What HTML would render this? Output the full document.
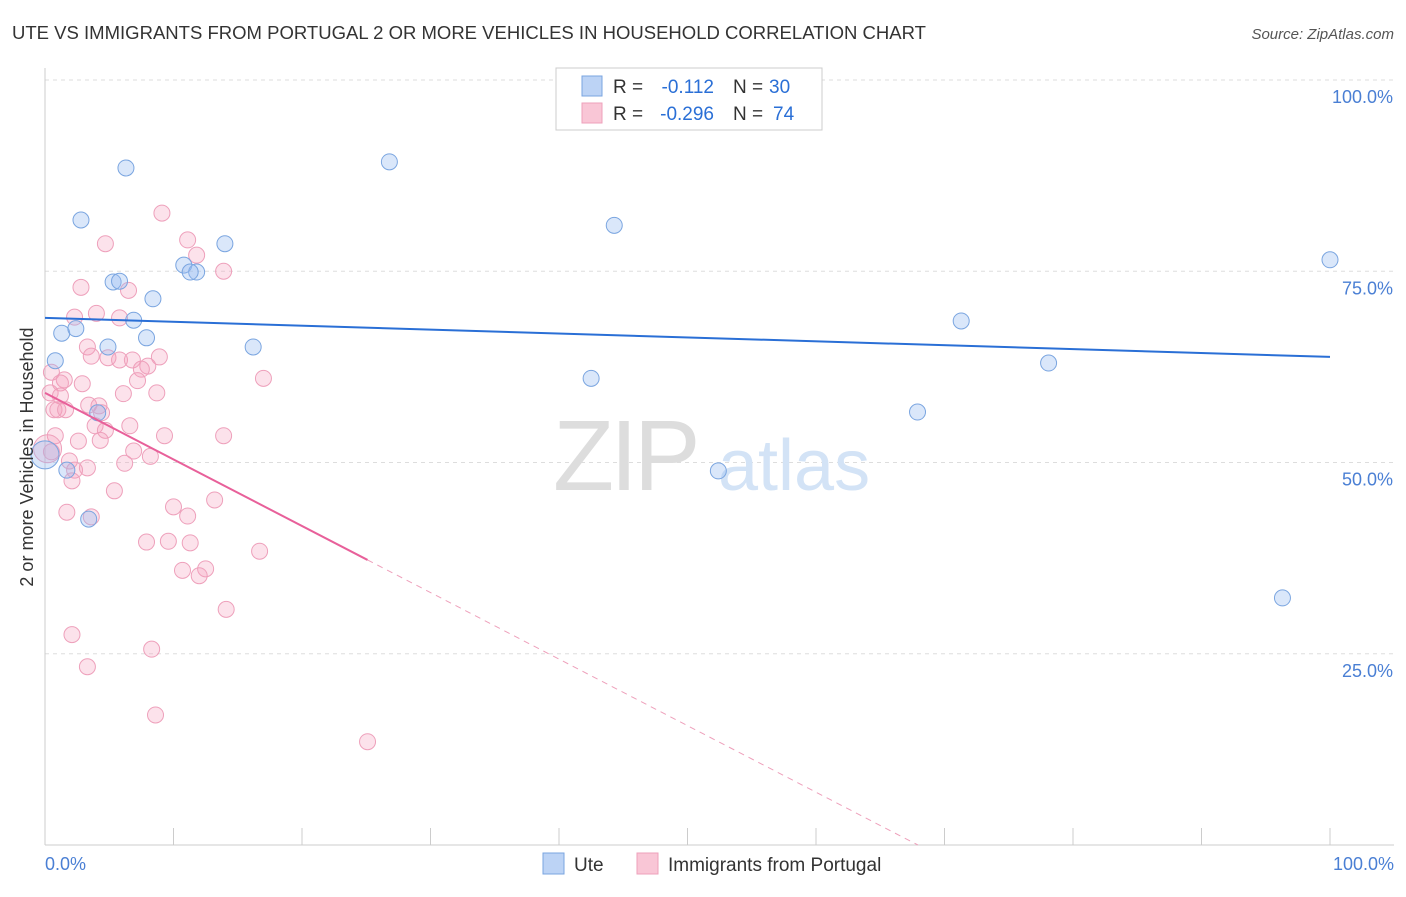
<!DOCTYPE html>
<html><head><meta charset="utf-8"><style>
body{margin:0;background:#fff;font-family:"Liberation Sans",sans-serif;}
svg text{font-family:"Liberation Sans",sans-serif;}
</style></head><body>
<svg id="chart" width="1406" height="892" xmlns="http://www.w3.org/2000/svg">
<text x="12" y="39" font-size="18" fill="#333" textLength="914" lengthAdjust="spacingAndGlyphs">UTE VS IMMIGRANTS FROM PORTUGAL 2 OR MORE VEHICLES IN HOUSEHOLD CORRELATION CHART</text>
<text x="1394" y="39" font-size="15" fill="#555" text-anchor="end" font-style="italic">Source: ZipAtlas.com</text>
<g id="grid"></g>
<text x="553" y="490" font-size="100" fill="#ddd" font-family="Liberation Serif, serif" letter-spacing="-4">ZIP</text>
<text x="718" y="490" font-size="72" fill="#d3e3f6">atlas</text>
<line x1="45" y1="68" x2="45" y2="845" stroke="#ccc"/>
<line x1="45" y1="845" x2="1394" y2="845" stroke="#ccc"/>
<g id="ticks"></g>
<g id="marks"></g>
<text transform="translate(33,457) rotate(-90)" font-size="18" fill="#333" text-anchor="middle">2 or more Vehicles in Household</text>
<text x="45" y="870" font-size="18" fill="#4a7fd4">0.0%</text>
<text x="1394" y="870" font-size="18" fill="#4a7fd4" text-anchor="end">100.0%</text>
<g>
<rect x="556" y="68" width="266" height="62" fill="#fff" stroke="#ccc"/>
<rect x="582" y="76" width="20" height="20" fill="#bcd3f5" stroke="#7aa5e0"/>
<rect x="582" y="103" width="20" height="20" fill="#f9c6d6" stroke="#eea0bb"/>
<text x="613" y="93" font-size="19" fill="#333">R =</text>
<text x="714" y="93" font-size="19" fill="#2a6fd6" text-anchor="end">-0.112</text>
<text x="733" y="93" font-size="19" fill="#333">N =</text>
<text x="769" y="93" font-size="19" fill="#2a6fd6">30</text>
<text x="613" y="120" font-size="19" fill="#333">R =</text>
<text x="714" y="120" font-size="19" fill="#2a6fd6" text-anchor="end">-0.296</text>
<text x="733" y="120" font-size="19" fill="#333">N =</text>
<text x="773" y="120" font-size="19" fill="#2a6fd6">74</text>
</g>
<g>
<rect x="543" y="853" width="21" height="21" fill="#bcd3f5" stroke="#7aa5e0"/>
<text x="574" y="871" font-size="19" fill="#333">Ute</text>
<rect x="637" y="853" width="21" height="21" fill="#f9c6d6" stroke="#eea0bb"/>
<text x="668" y="871" font-size="19" fill="#333">Immigrants from Portugal</text>
</g>
</svg>
<script>
const yTicks=[25,50,75,100];
const yTickLabels=["25.0%","50.0%","75.0%","100.0%"];
const uteX=[6.3,26.8,2.8,44.3,14.0,10.8,11.8,5.3,5.8,8.4,100,6.9,71.3,1.3,2.4,7.9,4.9,16.2,0.8,78.1,42.5,67.9,4.1,0,1.7,52.4,3.4,96.3,56.9,11.3];
const uteY=[88.5,89.3,81.7,81.0,78.6,75.8,74.9,73.6,73.7,71.4,76.5,68.6,68.5,66.9,67.5,66.3,65.1,65.1,63.3,63.0,61.0,56.6,56.5,51.0,49.0,48.9,42.6,32.3,100,74.9];
const porX=[9.1,11.1,4.7,11.8,13.9,2.8,6.5,4.0,2.3,5.8,3.3,3.6,4.9,5.8,6.8,8.9,8.0,7.5,0.5,1.5,2.9,1.2,7.2,17.0,0.4,6.1,8.7,1.2,3.4,4.2,0.7,1.0,1.6,4.4,6.6,3.9,4.7,4.3,2.6,0.8,9.3,13.9,0.5,6.9,8.2,1.9,6.2,3.3,2.3,2.1,5.4,13.2,10.0,11.1,1.7,3.6,7.9,9.6,11.3,16.7,10.7,12.5,12.0,14.1,2.1,8.3,3.3,8.6,25.1,0.2];
const porY=[82.6,79.1,78.6,77.1,75.0,72.9,72.5,69.5,69.0,68.9,65.1,63.9,63.7,63.4,63.4,63.8,62.6,62.2,61.8,60.8,60.3,60.4,60.7,61.0,59.1,59.0,59.1,58.7,57.5,57.4,56.9,56.9,56.9,56.5,54.8,54.8,54.2,52.9,52.8,53.5,53.5,53.5,51.4,51.5,50.8,50.2,49.9,49.3,49.0,47.6,46.3,45.1,44.2,43.0,43.5,42.9,39.6,39.7,39.5,38.4,35.9,36.1,35.2,30.8,27.5,25.6,23.3,17.0,13.5,51.8];
const uteBig=[23];
const porBig=[69];
const uteFit=[68.9,-0.051];
const porFit=[59.1,-0.87];
const porSolidEnd=25.1;

const NS="http://www.w3.org/2000/svg";
const sx=v=>45+v*12.85, sy=v=>845-v*7.65;
function mk(t,a,p){const e=document.createElementNS(NS,t);for(const k in a)e.setAttribute(k,a[k]);p.appendChild(e);return e;}
const grid=document.getElementById('grid'),ticks=document.getElementById('ticks'),marks=document.getElementById('marks');
yTicks.forEach((t,i)=>{
  const l=mk('line',{x1:45,x2:1394,y1:sy(t),y2:sy(t),stroke:'#ddd','stroke-dasharray':'4,4'},grid);
  
  
  const tx=mk('text',{x:1393,y:sy(t)+23,'font-size':18,fill:'#4a7fd4','text-anchor':'end'},grid);
  tx.textContent=yTickLabels[i];
  
  
});
for(let i=0;i<=10;i++){
  const l=mk('line',{x1:sx(i*10),x2:sx(i*10),y1:828,y2:845,stroke:'#ccc'},ticks);
  
  
}
porX.forEach((x,i)=>{
  const c=mk('circle',{cx:sx(x),cy:sy(porY[i]),r:porBig.includes(i)?14:8,fill:'rgba(245,160,190,0.3)',stroke:'#eea0bb','stroke-width':1},marks);
  
  
});
uteX.forEach((x,i)=>{
  const c=mk('circle',{cx:sx(x),cy:sy(uteY[i]),r:uteBig.includes(i)?14:8,fill:'rgba(150,185,240,0.35)',stroke:'#7aa5e0','stroke-width':1},marks);
  
  
});
const bl=mk('line',{x1:sx(0),y1:sy(uteFit[0]),x2:sx(100),y2:sy(uteFit[0]+uteFit[1]*100),stroke:'#2a6fd6','stroke-width':2},marks);


const pl=mk('line',{x1:sx(0),y1:sy(porFit[0]),x2:sx(porSolidEnd),y2:sy(porFit[0]+porFit[1]*porSolidEnd),stroke:'#e8609a','stroke-width':2},marks);


const xz=-porFit[0]/porFit[1];
const pd=mk('line',{x1:sx(porSolidEnd),y1:sy(porFit[0]+porFit[1]*porSolidEnd),x2:sx(xz),y2:sy(0),stroke:'#eea0bb','stroke-width':1,'stroke-dasharray':'6,5'},marks);


</script>
</body></html>
